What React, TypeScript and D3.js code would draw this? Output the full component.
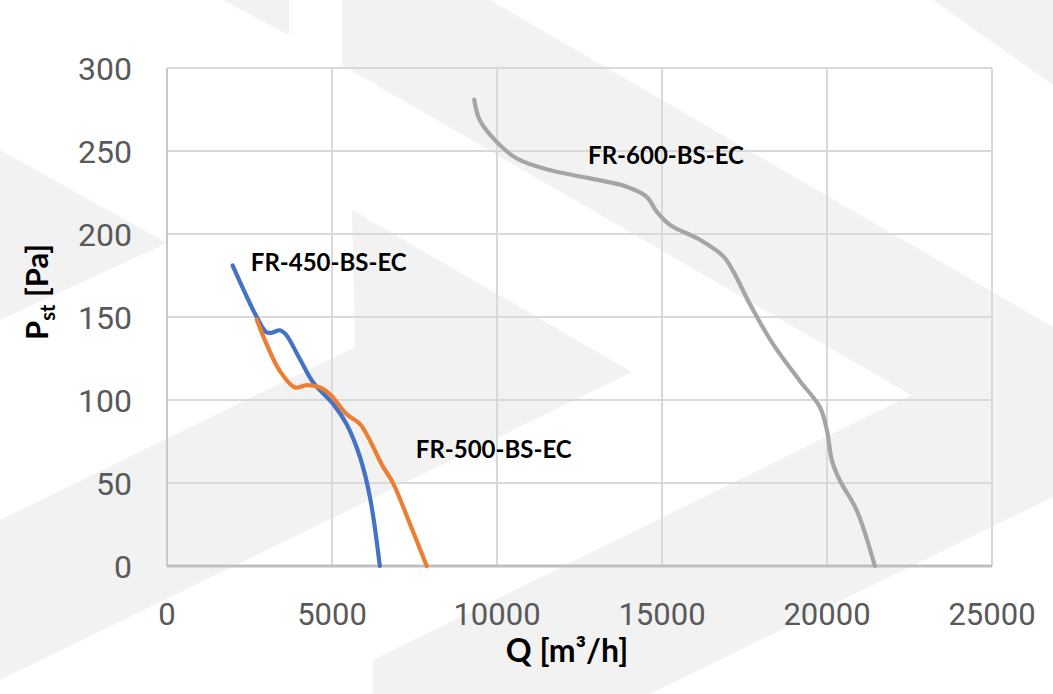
import React, { useEffect, useRef } from 'react';
import * as d3 from 'd3';

// axis ticks
const xTicks = [0, 5000, 10000, 15000, 20000, 25000];
const yTicks = [0, 50, 100, 150, 200, 250, 300];

// FR-450-BS-EC (blue)
const fr450Q = [1990, 2720, 3000, 3170, 3420, 3600, 4030, 4430, 5040, 5440, 5850, 6150, 6450];
const fr450P = [181, 150, 141, 140.5, 142, 139.5, 124.5, 110.5, 97.5, 85.5, 65.5, 41.5, 0];

// FR-500-BS-EC (orange)
const fr500Q = [2720, 3020, 3420, 3880, 4230, 4640, 4940, 5440, 5850, 6100, 6500, 6860, 7360, 7870];
const fr500P = [148.5, 133.5, 117.5, 107.5, 109, 107.5, 103.5, 91.5, 85.5, 77.5, 61.5, 49.5, 25.5, 0];

// FR-600-BS-EC (grey)
const fr600Q = [9310, 9480, 9990, 10600, 11600, 12820, 13930, 14530, 14840, 15240, 16150, 16860, 17160, 17670, 18370, 19180, 19790, 20000, 20150, 20390, 20900, 21450];
const fr600P = [281, 268.5, 255.5, 245.5, 238.5, 233.5, 228.5, 222.5, 213.5, 205.5, 196.5, 186.5, 177.5, 157.5, 133.5, 111.5, 95.5, 81.5, 63.5, 51.5, 33.5, 0];

const seriesNames = ['FR-450-BS-EC', 'FR-500-BS-EC', 'FR-600-BS-EC'];
const seriesColors = ['#4472C4', '#ED7D31', '#A5A5A5'];
// label anchor in data units (Q, P)
const labelQ = [2540, 7540, 12760];
const labelP = [178, 65, 242];

// faint watermark behind the chart (page pixels)
const watermark: [number, number][][] = [
  [[223, 0], [289, 0], [289, 35]],
  [[933, 0], [1053, 0], [1053, 85]],
  [[342, 0], [490, 0], [1053, 327], [1053, 497], [650, 694], [373, 694], [373, 660], [911, 395], [342, 65]],
  [[352, 210], [632, 372], [0, 680], [0, 520], [355, 347]],
  [[0, 150], [167, 243], [0, 320]],
];

const App: React.FC = () => {
  const svgRef = useRef<SVGSVGElement>(null);

  useEffect(() => {
    if (!svgRef.current) return;
    const width = 1053;
    const height = 694;
    const margin = { top: 68, right: 61, bottom: 128, left: 167 };
    const innerWidth = width - margin.left - margin.right;
    const innerHeight = height - margin.top - margin.bottom;

    const svg = d3.select(svgRef.current);
    svg.selectAll('*').remove();
    svg.attr('width', width).attr('height', height);

    svg.append('rect').attr('width', width).attr('height', height).attr('fill', '#ffffff');

    svg.selectAll('polygon.wm')
      .data(watermark)
      .enter()
      .append('polygon')
      .attr('class', 'wm')
      .attr('points', d => d.map(p => p.join(',')).join(' '))
      .attr('fill', '#f2f2f2');

    const x = d3.scaleLinear().domain([0, 25000]).range([0, innerWidth]);
    const y = d3.scaleLinear().domain([0, 300]).range([innerHeight, 0]);

    const g = svg.append('g').attr('transform', `translate(${margin.left},${margin.top})`);

    // grid
    g.append('g')
      .selectAll('line')
      .data(yTicks.filter(t => t > 0))
      .enter()
      .append('line')
      .attr('x1', 0).attr('x2', innerWidth)
      .attr('y1', d => y(d)).attr('y2', d => y(d))
      .attr('stroke', '#d9d9d9').attr('stroke-width', 2);

    g.append('g')
      .selectAll('line')
      .data(xTicks.filter(t => t > 0))
      .enter()
      .append('line')
      .attr('y1', 0).attr('y2', innerHeight)
      .attr('x1', d => x(d)).attr('x2', d => x(d))
      .attr('stroke', '#d9d9d9').attr('stroke-width', 2);

    // axis lines
    g.append('line')
      .attr('x1', 0).attr('x2', 0).attr('y1', 0).attr('y2', innerHeight)
      .attr('stroke', '#c8c8c8').attr('stroke-width', 2);
    g.append('line')
      .attr('x1', 0).attr('x2', innerWidth).attr('y1', innerHeight).attr('y2', innerHeight)
      .attr('stroke', '#bfbfbf').attr('stroke-width', 3);

    // tick labels
    g.append('g')
      .selectAll('text')
      .data(yTicks)
      .enter()
      .append('text')
      .attr('x', -35)
      .attr('y', d => y(d))
      .attr('dy', '0.36em')
      .attr('text-anchor', 'end')
      .attr('font-family', 'Roboto, sans-serif')
      .attr('font-size', 32)
      .attr('fill', '#595959')
      .text(d => d);

    g.append('g')
      .selectAll('text')
      .data(xTicks)
      .enter()
      .append('text')
      .attr('x', d => x(d))
      .attr('y', innerHeight + 59)
      .attr('text-anchor', 'middle')
      .attr('font-family', 'Roboto, sans-serif')
      .attr('font-size', 31)
      .attr('fill', '#595959')
      .text(d => d);

    // curves
    const series = [
      fr450Q.map((q, i) => ({ q, p: fr450P[i] })),
      fr500Q.map((q, i) => ({ q, p: fr500P[i] })),
      fr600Q.map((q, i) => ({ q, p: fr600P[i] })),
    ];
    const line = d3.line<{ q: number; p: number }>()
      .x(d => x(d.q))
      .y(d => y(d.p))
      .curve(d3.curveCatmullRom.alpha(0.5));

    g.append('g')
      .selectAll('path')
      .data(series)
      .enter()
      .append('path')
      .attr('d', d => line(d))
      .attr('fill', 'none')
      .attr('stroke', (_, i) => seriesColors[i])
      .attr('stroke-width', 4.2)
      .attr('stroke-linecap', 'round')
      .attr('stroke-linejoin', 'round');

    // series labels
    g.append('g')
      .selectAll('text')
      .data(seriesNames)
      .enter()
      .append('text')
      .attr('x', (_, i) => x(labelQ[i]))
      .attr('y', (_, i) => y(labelP[i]))
      .attr('font-family', 'Lato, sans-serif')
      .attr('font-weight', 700)
      .attr('font-size', 24)
      .attr('fill', '#000000')
      .text(d => d);

    // axis titles
    svg.append('text')
      .attr('x', 567)
      .attr('y', 662)
      .attr('text-anchor', 'middle')
      .attr('font-family', 'Lato, sans-serif')
      .attr('font-weight', 700)
      .attr('font-size', 32)
      .attr('fill', '#000000')
      .text('Q [m³/h]');

    const yt = svg.append('text')
      .attr('transform', 'translate(48,292) rotate(-90)')
      .attr('text-anchor', 'middle')
      .attr('font-family', 'Lato, sans-serif')
      .attr('font-weight', 700)
      .attr('font-size', 31)
      .attr('fill', '#000000');
    yt.append('tspan').text('P');
    yt.append('tspan').attr('font-size', 20).attr('dy', 7).text('st');
    yt.append('tspan').attr('dy', -7).text(' [Pa]');
  }, []);

  return (
    <div style={{ position: 'absolute', left: 0, top: 0 }}>
      <svg ref={svgRef} style={{ display: 'block' }}></svg>
    </div>
  );
};

export default App;
